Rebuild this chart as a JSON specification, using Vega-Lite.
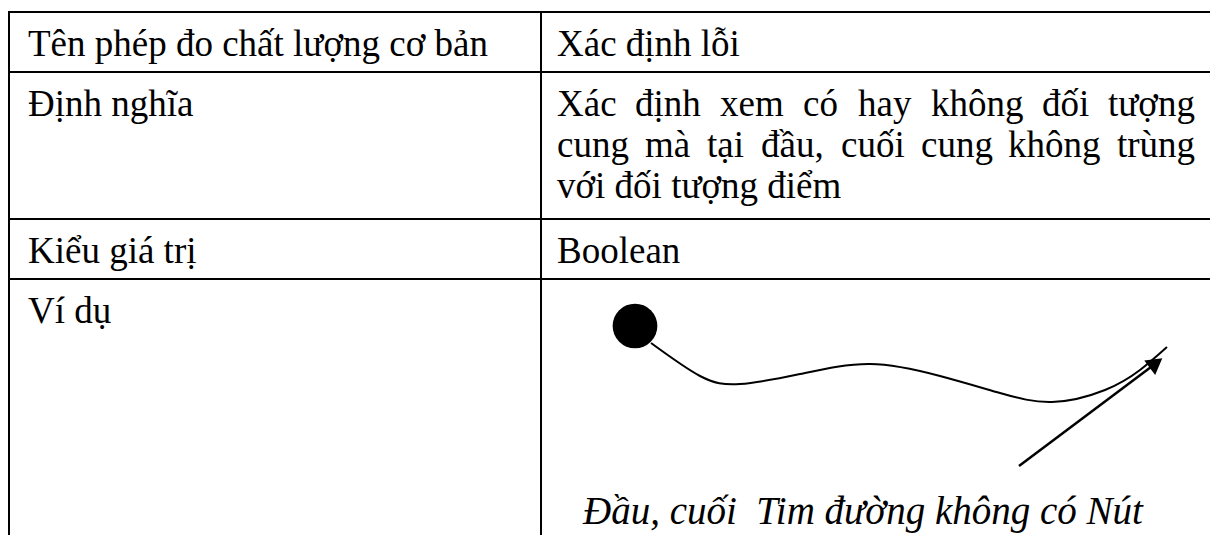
{
  "$schema": "https://vega.github.io/schema/vega-lite/v6.json",
  "width": 1210,
  "height": 535,
  "autosize": {"type": "none"},
  "padding": 0,
  "background": "white",
  "config": {"view": {"stroke": null}},
  "datasets": {
    "grid": [
      {"x1": 9, "x2": 1210, "y1": 12, "y2": 12},
      {"x1": 9, "x2": 1210, "y1": 72, "y2": 72},
      {"x1": 9, "x2": 1210, "y1": 219, "y2": 219},
      {"x1": 9, "x2": 1210, "y1": 279, "y2": 279},
      {"x1": 9, "x2": 9, "y1": 11, "y2": 535},
      {"x1": 541, "x2": 541, "y1": 11, "y2": 535}
    ],
    "cells": [
      {"x": 28, "y": 56, "t": "Tên phép đo chất lượng cơ bản"},
      {"x": 557, "y": 56, "t": "Xác định lỗi"},
      {"x": 28, "y": 116, "t": "Định nghĩa"},
      {"x": 557, "y": 116, "t": "Xác"},
      {"x": 635, "y": 116, "t": "định"},
      {"x": 720, "y": 116, "t": "xem"},
      {"x": 803, "y": 116, "t": "có"},
      {"x": 858, "y": 116, "t": "hay"},
      {"x": 931, "y": 116, "t": "không"},
      {"x": 1042, "y": 116, "t": "đối"},
      {"x": 1108, "y": 116, "t": "tượng"},
      {"x": 557, "y": 157, "t": "cung"},
      {"x": 645, "y": 157, "t": "mà"},
      {"x": 707, "y": 157, "t": "tại"},
      {"x": 761, "y": 157, "t": "đầu,"},
      {"x": 841, "y": 157, "t": "cuối"},
      {"x": 921, "y": 157, "t": "cung"},
      {"x": 1008, "y": 157, "t": "không"},
      {"x": 1117, "y": 157, "t": "trùng"},
      {"x": 557, "y": 198, "t": "với đối tượng điểm"},
      {"x": 28, "y": 263, "t": "Kiểu giá trị"},
      {"x": 557, "y": 263, "t": "Boolean"},
      {"x": 28, "y": 323, "t": "Ví dụ"}
    ],
    "caption": [
      {"x": 583, "y": 524, "t": "Đầu, cuối\u00a0 Tim đường không có Nút"}
    ],
    "curve": [
      {"x": 651, "y": 343, "o": 0},
      {"x": 700, "y": 376, "o": 1},
      {"x": 740, "y": 384, "o": 2},
      {"x": 800, "y": 374, "o": 3},
      {"x": 870, "y": 364, "o": 4},
      {"x": 940, "y": 376, "o": 5},
      {"x": 1000, "y": 393, "o": 6},
      {"x": 1052, "y": 402, "o": 7},
      {"x": 1105, "y": 390, "o": 8},
      {"x": 1140, "y": 370, "o": 9},
      {"x": 1167, "y": 347, "o": 10}
    ],
    "node": [{"x": 635, "y": 326}],
    "arrow": [{"x1": 1019, "y1": 466, "x2": 1155, "y2": 364}],
    "head": [{"x": 1156, "y": 363}]
  },
  "layer": [
    {
      "data": {"name": "grid"},
      "mark": {"type": "rule", "color": "black", "strokeWidth": 2},
      "encoding": {
        "x": {"field": "x1", "type": "quantitative", "scale": {"domain": [0, 1210], "nice": false, "zero": false}, "axis": null},
        "x2": {"field": "x2"},
        "y": {"field": "y1", "type": "quantitative", "scale": {"domain": [0, 535], "nice": false, "zero": false, "reverse": true}, "axis": null},
        "y2": {"field": "y2"}
      }
    },
    {
      "data": {"name": "cells"},
      "mark": {"type": "text", "align": "left", "baseline": "alphabetic", "font": "Liberation Serif", "fontSize": 37, "color": "black"},
      "encoding": {
        "x": {"field": "x", "type": "quantitative"},
        "y": {"field": "y", "type": "quantitative"},
        "text": {"field": "t"}
      }
    },
    {
      "data": {"name": "caption"},
      "mark": {"type": "text", "align": "left", "baseline": "alphabetic", "font": "Liberation Serif", "fontStyle": "italic", "fontSize": 39, "color": "black"},
      "encoding": {
        "x": {"field": "x", "type": "quantitative"},
        "y": {"field": "y", "type": "quantitative"},
        "text": {"field": "t"}
      }
    },
    {
      "data": {"name": "curve"},
      "mark": {"type": "line", "color": "black", "strokeWidth": 2, "interpolate": "natural"},
      "encoding": {
        "x": {"field": "x", "type": "quantitative"},
        "y": {"field": "y", "type": "quantitative"},
        "order": {"field": "o"}
      }
    },
    {
      "data": {"name": "node"},
      "mark": {"type": "point", "shape": "circle", "filled": true, "color": "black", "opacity": 1, "size": 2000},
      "encoding": {
        "x": {"field": "x", "type": "quantitative"},
        "y": {"field": "y", "type": "quantitative"}
      }
    },
    {
      "data": {"name": "arrow"},
      "mark": {"type": "rule", "color": "black", "strokeWidth": 2.5},
      "encoding": {
        "x": {"field": "x1", "type": "quantitative"},
        "x2": {"field": "x2"},
        "y": {"field": "y1", "type": "quantitative"},
        "y2": {"field": "y2"}
      }
    },
    {
      "data": {"name": "head"},
      "mark": {"type": "point", "shape": "triangle-up", "filled": true, "color": "black", "opacity": 1, "size": 330, "angle": 53},
      "encoding": {
        "x": {"field": "x", "type": "quantitative"},
        "y": {"field": "y", "type": "quantitative"}
      }
    }
  ]
}
